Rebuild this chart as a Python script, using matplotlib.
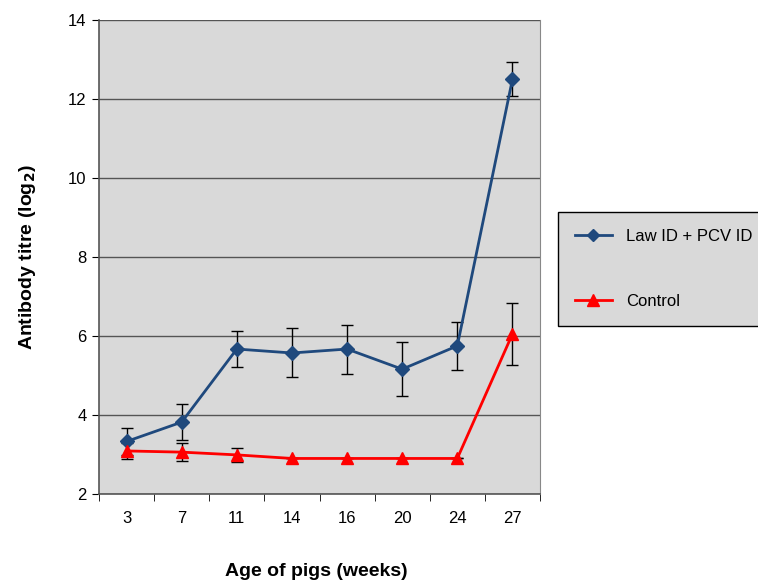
import matplotlib.pyplot as plt
from matplotlib.lines import Line2D
import numpy as np

plt.rcParams['font.family'] = ['Liberation Sans', 'DejaVu Sans']

weeks = ["3", "7", "11", "14", "16", "20", "24", "27"]
law_pcv = [3.33, 3.82, 5.67, 5.57, 5.67, 5.16, 5.75, 12.5]
law_pcv_err = [0.33, 0.46, 0.46, 0.62, 0.62, 0.68, 0.6, 0.43]
control = [3.09, 3.06, 2.99, 2.9, 2.9, 2.9, 2.9, 6.05]
control_err = [0.2, 0.22, 0.17, 0, 0, 0, 0, 0.78]

blue = '#1f497d'
red = '#ff0000'

fig = plt.figure(figsize=(7.58, 5.84), dpi=100)
ax = fig.add_axes([99 / 758, 1 - 494 / 584, 441 / 758, 474 / 584])
ax.set_facecolor('#d9d9d9')

x = np.arange(len(weeks))
ax.errorbar(x, law_pcv, yerr=law_pcv_err, color=blue, marker='D',
            markersize=7, linewidth=2, ecolor='black', elinewidth=1,
            capsize=4, capthick=1, zorder=3)
ax.errorbar(x, control, yerr=control_err, color=red, marker='^',
            markersize=9, linewidth=2, ecolor='black', elinewidth=1,
            capsize=4, capthick=1, zorder=3)

ax.set_ylim(2, 14)
ax.set_yticks(np.arange(2, 15, 2))
ax.set_xlim(-0.5, len(weeks) - 0.5)
ax.set_xticks(x)
ax.set_xticklabels(weeks)
ax.set_xticks(np.arange(-0.5, len(weeks)), minor=True)
ax.tick_params(axis='x', which='major', length=0, pad=12, labelsize=12)
ax.tick_params(axis='x', which='minor', length=5, direction='out', color='black')
ax.tick_params(axis='y', length=5, direction='out', labelsize=12, pad=4)
ax.grid(axis='y', color='#555555', linewidth=1)
ax.set_axisbelow(True)

for s in ['left', 'bottom']:
    ax.spines[s].set_color('#555555')
    ax.spines[s].set_linewidth(1.2)
ax.spines['right'].set_color('#888888')
ax.spines['top'].set_visible(False)

fig.text(316 / 758, 1 - 572 / 584, 'Age of pigs (weeks)', ha='center',
         va='center', fontsize=14, fontweight='bold')
fig.text(27 / 758, 1 - 257 / 584, 'Antibody titre (log$_\\mathbf{2}$)',
         ha='center', va='center', rotation=90, fontsize=14, fontweight='bold')

handles = [
    Line2D([], [], color=blue, marker='D', markersize=6, linewidth=2),
    Line2D([], [], color=red, marker='^', markersize=8, linewidth=2),
]
leg = fig.legend(handles, ['Law ID + PCV ID', 'Control'], loc='upper left',
                 bbox_to_anchor=(550 / 758, 1 - 204 / 584),
                 frameon=True, fancybox=False, fontsize=12, labelspacing=3.0,
                 borderpad=1.0, handlelength=2.2, handletextpad=0.85,
                 edgecolor='black', facecolor='#d9d9d9')
leg.get_frame().set_linewidth(1)
leg.get_frame().set_alpha(1)

fig.savefig('out.png', dpi=100)
